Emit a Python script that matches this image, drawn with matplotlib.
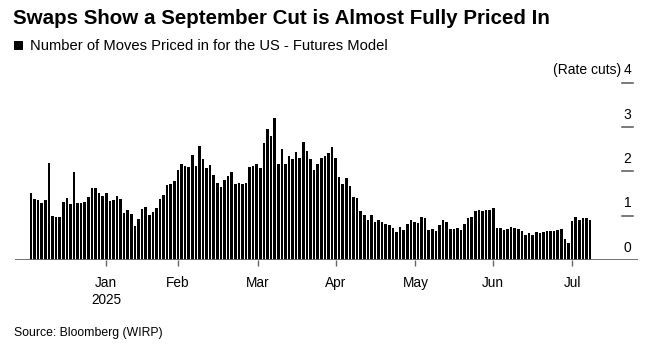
import matplotlib
matplotlib.use("Agg")
import matplotlib.pyplot as plt
import numpy as np
from matplotlib.patches import Rectangle

plt.rcParams['font.family'] = ['Liberation Sans', 'DejaVu Sans']

# Number of moves priced in (rate cuts), one value per trading day, Dec 2024 - Jul 2025
values = [
    1.51, 1.38, 1.35, 1.29, 1.35, 2.19, 0.99, 0.97, 0.97, 1.31,
    1.40, 1.26, 1.99, 1.29, 1.29, 1.31, 1.42, 1.63, 1.63, 1.51,
    1.44, 1.51, 1.33, 1.35, 1.44, 1.38, 1.06, 1.13, 1.04, 0.77,
    0.93, 1.15, 1.20, 1.02, 1.08, 1.17, 1.38, 1.47, 1.69, 1.72,
    1.78, 2.03, 2.17, 2.12, 2.10, 2.37, 2.12, 2.57, 2.28, 2.08,
    2.14, 1.92, 1.74, 1.65, 1.81, 1.90, 1.99, 1.72, 1.74, 1.72,
    1.74, 2.10, 2.12, 2.17, 2.08, 2.64, 2.96, 2.80, 3.21, 2.17,
    2.51, 2.17, 2.35, 2.28, 2.44, 2.30, 2.66, 2.46, 2.28, 2.03,
    2.17, 2.30, 2.35, 2.42, 2.55, 2.30, 1.87, 1.72, 1.85, 1.67,
    1.43, 1.41, 1.11, 1.02, 0.90, 1.02, 0.86, 0.90, 0.86, 0.82,
    0.80, 0.73, 0.64, 0.74, 0.68, 0.82, 0.90, 0.86, 0.84, 0.97,
    0.95, 0.68, 0.70, 0.65, 0.79, 0.90, 0.86, 0.70, 0.70, 0.72,
    0.68, 0.81, 0.95, 0.97, 1.11, 1.13, 1.11, 1.13, 1.13, 1.17,
    0.72, 0.72, 0.68, 0.70, 0.74, 0.72, 0.70, 0.65, 0.56, 0.61,
    0.56, 0.63, 0.61, 0.63, 0.65, 0.65, 0.65, 0.68, 0.70, 0.47,
    0.38, 0.88, 0.97, 0.90, 0.95, 0.95, 0.90,
]

month_labels = ['Jan\n2025', 'Feb', 'Mar', 'Apr', 'May', 'Jun', 'Jul']
month_positions = [21, 41, 63.4, 85, 107.3, 129, 151]  # bar index where each month starts
y_ticks = [0, 1, 2, 3, 4]

title = "Swaps Show a September Cut is Almost Fully Priced In"
legend_label = "Number of Moves Priced in for the US - Futures Model"
y_unit = "(Rate cuts)"
source = "Source: Bloomberg (WIRP)"

W, H = 648, 352
fig = plt.figure(figsize=(W / 100, H / 100), dpi=100)

ax_left, ax_right, ax_top, ax_bottom = 15, 638, 82.7, 260
ax = fig.add_axes([ax_left / W, 1 - ax_bottom / H, (ax_right - ax_left) / W, (ax_bottom - ax_top) / H])

x = np.arange(len(values))
ax.bar(x, values, width=0.72, color='black', linewidth=0)

ax.set_ylim(0, 4)
ax.set_xlim(-4.47, 169.4)

for s in ['top', 'right', 'left', 'bottom']:
    ax.spines[s].set_visible(False)
ax.axhline(0, color='#666666', linewidth=1.3, zorder=3)

ax.set_yticks([])
ax.set_xticks(month_positions)
ax.set_xticklabels(month_labels, fontsize=9.8, linespacing=1.25)
ax.tick_params(axis='x', length=4.5, width=1, color='#666666', pad=7)

# y-axis ticks on the right: short marks with labels above them
x0 = (622 - ax_left) / (ax_right - ax_left)
x1 = (633 - ax_left) / (ax_right - ax_left)
xm = (x0 + x1) / 2
trans = matplotlib.transforms.blended_transform_factory(ax.transAxes, ax.transData)
for v in y_ticks:
    if v > 0:
        ax.plot([x0, x1], [v, v], transform=trans, color='#555555', linewidth=1.1, clip_on=False)
    ax.annotate(str(v), xy=(xm, v), xycoords=trans, xytext=(0, 9), textcoords='offset points',
                ha='center', va='center', fontsize=10)
ax.annotate(y_unit, xy=(xm, y_ticks[-1]), xycoords=trans, xytext=(-4.5, 9), textcoords='offset points',
            ha='right', va='center', fontsize=10)

fig.text(13 / W, 1 - 19 / H, title, fontsize=14.8, fontweight='bold', va='center', ha='left')
fig.patches.append(Rectangle((14 / W, 1 - 50 / H), 9 / W, 9 / H, transform=fig.transFigure,
                             facecolor='black', edgecolor='none'))
fig.text(30 / W, 1 - 45.5 / H, legend_label, fontsize=10.6, va='center', ha='left')
fig.text(14 / W, 1 - 333 / H, source, fontsize=8.8, va='center', ha='left')

fig.savefig('out.png', dpi=100)
